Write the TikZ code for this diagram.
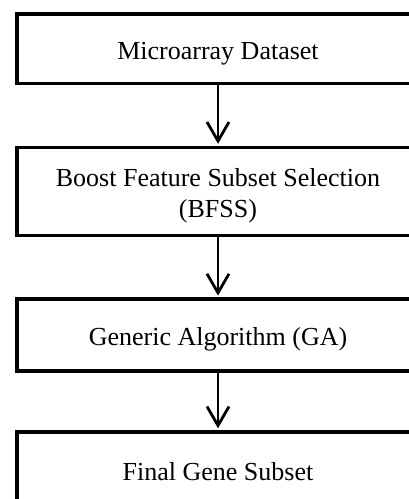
\documentclass[tikz,border=0pt]{standalone}
\usepackage{fontspec}
\setmainfont{Liberation Serif}
\usetikzlibrary{arrows.meta}
\begin{document}
\begin{tikzpicture}[x=1pt,y=-1pt,
  stagebox/.style={draw=black, line width=3.7pt, rectangle, inner sep=0pt,
    minimum width=401.4pt},
  lbl/.style={font=\fontsize{26}{30.6}\selectfont, inner sep=0pt, align=center, anchor=base},
  flow/.style={line width=2.8pt, -{Straight Barb[length=19pt,width=22pt]}, shorten >=1.85pt}]
\useasboundingbox (0,0) rectangle (409,499);
\node[stagebox, minimum height=69.7pt] (b1) at (218,48.65) {};
\node[stagebox, minimum height=88pt] (b2) at (218,191.5) {};
\node[stagebox, minimum height=72pt] (b3) at (218,335.3) {};
\node[stagebox, minimum height=75pt] (b4) at (218,469.5) {};
\node[lbl] (t1) at (218,59) {Microarray Dataset};
\node[lbl] (t2) at (218,217.3) {Boost Feature Subset Selection\\(BFSS)};
\node[lbl] (t3) at (218,345.7) {Generic Algorithm (GA)};
\node[lbl] (t4) at (218,480) {Final Gene Subset};
\draw[flow] (b1.south) -- (b2.north);
\draw[flow] (b2.south) -- (b3.north);
\draw[flow] (b3.south) -- (b4.north);
\end{tikzpicture}
\end{document}
